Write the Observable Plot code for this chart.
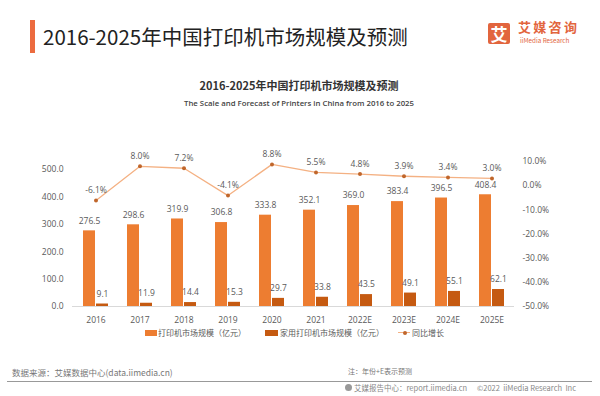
<!DOCTYPE html>
<html><head><meta charset="utf-8">
<script src="https://cdn.jsdelivr.net/npm/d3@7"></script>
<script src="https://cdn.jsdelivr.net/npm/@observablehq/plot@0.6"></script>
<style>
html,body{margin:0;padding:0;background:#fff;}
body{width:600px;height:396px;position:relative;overflow:hidden;font-family:"Noto Sans CJK SC","Open Sans",sans-serif;}
.abs{position:absolute;white-space:nowrap;line-height:1;}
#chart{position:absolute;left:0;top:130px;}
.sw{position:absolute;}
.lg{position:absolute;font-size:8px;color:#595959;line-height:1;white-space:nowrap;}
</style></head><body>
<div class="abs" style="left:30px;top:20px;width:4.5px;height:33px;background:#EC6B3F"></div>
<div class="abs" style="left:43px;top:26px;font-size:20.5px;color:#222;">2016-2025年中国打印机市场规模及预测</div>
<div class="abs" style="left:488px;top:23px;width:22px;height:21px;background:#E2653E;border-radius:2px;color:#fff;font-size:17px;font-weight:700;text-align:center;line-height:21px;">艾</div>
<div class="abs" style="left:518px;top:20px;font-size:13px;color:#E2653E;font-weight:700;letter-spacing:2.3px;">艾媒咨询</div>
<div class="abs" style="left:520px;top:38px;font-size:6.3px;color:#E2653E;">iiMedia Research</div>

<div class="abs" style="left:0;width:598px;text-align:center;top:79.5px;font-size:11px;font-weight:700;color:#333;">2016-2025年中国打印机市场规模及预测</div>
<div class="abs" style="left:0;width:598px;text-align:center;top:99.5px;font-size:7.8px;font-weight:600;color:#444;font-family:'Open Sans',sans-serif;">The Scale and Forecast of Printers in China from 2016 to 2025</div>

<div id="chart"></div>

<div class="sw" style="left:145px;top:329.5px;width:12px;height:6px;background:#ED7D31"></div>
<div class="lg" style="left:158px;top:328.5px;">打印机市场规模（亿元）</div>
<div class="sw" style="left:265px;top:329.5px;width:13px;height:6px;background:#C55A11"></div>
<div class="lg" style="left:280px;top:328.5px;">家用打印机市场规模（亿元）</div>
<div class="sw" style="left:398px;top:332px;width:12px;height:1.3px;background:#F4B183"></div>
<div class="sw" style="left:402.5px;top:330.6px;width:4px;height:4px;border-radius:2px;background:#C0662B"></div>
<div class="lg" style="left:412px;top:328.5px;">同比增长</div>

<div class="abs" style="left:12px;top:368px;font-size:8.5px;color:#777;">数据来源：艾媒数据中心(data.iimedia.cn)</div>
<div class="abs" style="left:348px;top:368px;font-size:7px;color:#777;">注：年份+E表示预测</div>
<div class="abs" style="left:7px;top:381px;width:585px;height:1.2px;background:#999"></div>
<div class="abs" style="left:345px;top:384px;width:7px;height:7px;border-radius:50%;background:#999"></div>
<div class="abs" style="left:354px;top:383.5px;font-size:7.5px;color:#888;">艾媒报告中心：report.iimedia.cn</div>
<div class="abs" style="left:477px;top:383.5px;font-size:7.5px;color:#888;">©2022&nbsp; iiMedia Research&nbsp; Inc</div>

<script>
const years = ["2016","2017","2018","2019","2020","2021","2022E","2023E","2024E","2025E"];
const printerMarket = [276.5,298.6,319.9,306.8,333.8,352.1,369.0,383.4,396.5,408.4];
const homeMarket = [9.1,11.9,14.4,15.3,29.7,33.8,43.5,49.1,55.1,62.1];
const growth = [-6.1,8.0,7.2,-4.1,8.8,5.5,4.8,3.9,3.4,3.0];
const leftTicks = [0,100,200,300,400,500];
const rightTicks = [-50,-40,-30,-20,-10,0,10];

const leftMax = 530;       // left axis top of plot area
const pctMin = -50, pctMax = 10; // right axis range
const pctToLeft = p => (p - pctMin) / (pctMax - pctMin) * leftMax;

const rows = years.map((year, i) => ({year, printer: printerMarket[i], home: homeMarket[i], growth: growth[i]}));
const txt = "#595959";

const chart = Plot.plot({
  width: 600, height: 200,
  marginLeft: 72, marginRight: 86, marginTop: 31, marginBottom: 24,
  style: {fontFamily: "'Open Sans','Noto Sans CJK SC',sans-serif", fontSize: "8.5px", color: txt, background: "transparent", overflow: "visible"},
  x: {domain: years, paddingInner: 0.434, paddingOuter: 0.217, tickSize: 0, tickPadding: 10, label: null},
  y: {domain: [0, leftMax], ticks: leftTicks, tickFormat: d => d.toFixed(1), tickSize: 0, tickPadding: 9, label: null},
  marks: [
    Plot.ruleY([0], {stroke: "#d9d9d9"}),
    Plot.barY(rows, {x: "year", y: "printer", fill: "#ED7D31", insetRight: 13}),
    Plot.barY(rows, {x: "year", y: "home", fill: "#C55A11", insetLeft: 13}),
    Plot.text(rows, {x: "year", y: "printer", text: d => d.printer.toFixed(1), dx: -6.5, dy: -10, fill: txt}),
    Plot.text(rows, {x: "year", y: "home", text: d => d.home.toFixed(1), dx: 6.5, dy: -10, fill: txt}),
    Plot.line(rows, {x: "year", y: d => pctToLeft(d.growth), stroke: "#F4B183", strokeWidth: 1.3}),
    Plot.dot(rows, {x: "year", y: d => pctToLeft(d.growth), r: 2, fill: "#C0662B"}),
    Plot.text(rows, {x: "year", y: d => pctToLeft(d.growth), text: d => d.growth.toFixed(1) + "%", dy: -10, fill: txt}),
    Plot.text(rightTicks, {y: d => pctToLeft(d), text: d => d.toFixed(1) + "%", frameAnchor: "right", textAnchor: "start", dx: 8, fill: txt})
  ]
});
document.getElementById("chart").appendChild(chart);
</script>
</body></html>
